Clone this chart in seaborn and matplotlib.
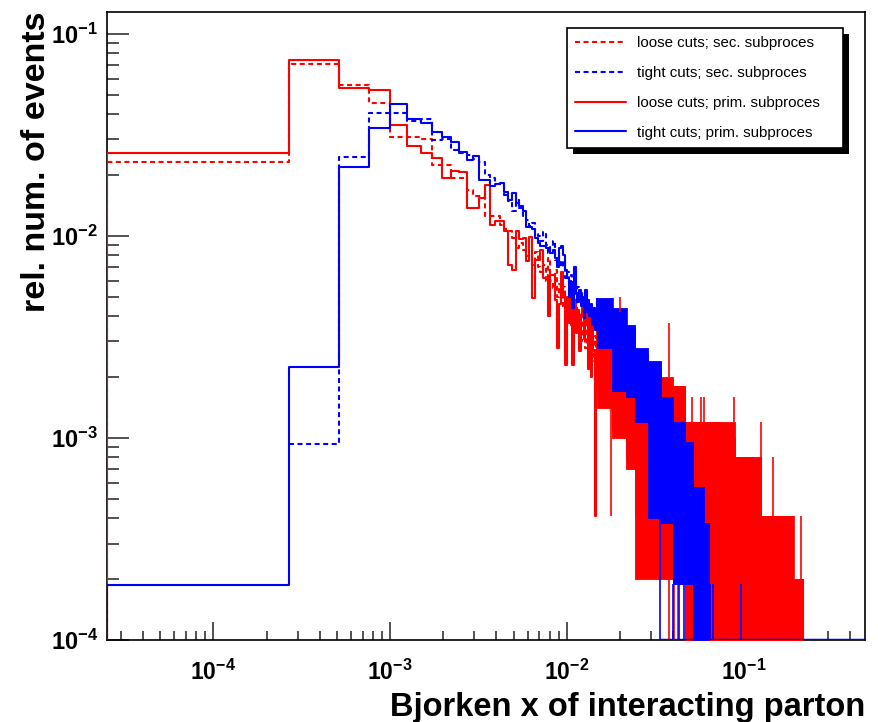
import numpy as np
import matplotlib
matplotlib.use("Agg")
import matplotlib.pyplot as plt
import seaborn as sns
from matplotlib.lines import Line2D
from matplotlib.patches import Rectangle
from matplotlib.ticker import LogLocator, NullFormatter, FixedLocator, FixedFormatter
from matplotlib.transforms import IdentityTransform

# ---- binning: uniform bins of width BIN_W starting at X_LO ----
X_LO = 2.5e-5
BIN_W = 2.44e-4
X_HI = 0.488
Y_MIN = 1e-4
Y_MAX = 0.128

# ---- relative number of events, bins 0..60 ----
loose_sec = [0.0233, 0.0708, 0.0560, 0.0452, 0.0308, 0.0308, 0.0301, 0.0225, 0.0225, 0.0193,
             0.0193, 0.0169, 0.0157, 0.0157, 0.0125, 0.0125, 0.0125, 0.0113, 0.0108, 0.0105,
             0.0098, 0.0087, 0.0092, 0.0085, 0.0079, 0.0081, 0.0072, 0.0083, 0.0070, 0.0066,
             0.0072, 0.0060, 0.0078, 0.0060, 0.0055, 0.0068, 0.0050, 0.0058, 0.0045, 0.0056,
             0.0048, 0.0040, 0.0052, 0.0036, 0.0046, 0.0040, 0.0052, 0.0035, 0.0042, 0.0030,
             0.0044, 0.0036, 0.0028, 0.0040, 0.0032, 0.0026, 0.0036, 0.0030, 0.0024, 0.0032,
             0.0027]
tight_sec = [0.0, 9.3e-4, 0.0244, 0.0407, 0.0403, 0.0368, 0.0378, 0.0299, 0.0301, 0.0267,
             0.0258, 0.0250, 0.0240, 0.0231, 0.0200, 0.0193, 0.0181, 0.0181, 0.0160, 0.0148,
             0.0132, 0.0150, 0.0138, 0.0125, 0.0120, 0.0112, 0.0116, 0.0102, 0.0100, 0.0094,
             0.0104, 0.0090, 0.0082, 0.0088, 0.0094, 0.0076, 0.0080, 0.0074, 0.0070, 0.0077,
             0.0062, 0.0066, 0.0058, 0.0064, 0.0055, 0.0060, 0.0050, 0.0056, 0.0048, 0.0052,
             0.0044, 0.0050, 0.0046, 0.0040, 0.0048, 0.0041, 0.0038, 0.0044, 0.0036, 0.0040,
             0.0034]
loose_prim = [0.0258, 0.0743, 0.0538, 0.0526, 0.0355, 0.0277, 0.0258, 0.0243, 0.0193, 0.0210,
              0.0206, 0.0137, 0.0137, 0.0154, 0.0179, 0.0113, 0.0118, 0.0118, 0.0105, 0.0072,
              0.0068, 0.0105, 0.0096, 0.0098, 0.0075, 0.0099, 0.0049, 0.0076, 0.0076, 0.0085,
              0.0062, 0.0062, 0.0040, 0.0064, 0.0064, 0.0048, 0.0028, 0.0046, 0.0066, 0.0052,
              0.0023, 0.0050, 0.0037, 0.0052, 0.0023, 0.0047, 0.0033, 0.0043, 0.0027, 0.0040,
              0.0050, 0.0031, 0.0043, 0.0037, 0.0022, 0.0040, 0.0020, 0.0037, 0.0027, 0.00041,
              0.0019]
tight_prim = [1.87e-4, 2.25e-3, 0.0218, 0.0341, 0.0450, 0.0378, 0.0361, 0.0325, 0.0307, 0.0290,
              0.0261, 0.0236, 0.0247, 0.0189, 0.0189, 0.0177, 0.0181, 0.0182, 0.0165, 0.0151,
              0.0163, 0.0145, 0.0140, 0.0133, 0.0111, 0.0111, 0.0108, 0.0098, 0.0092, 0.0089,
              0.0089, 0.0087, 0.0087, 0.0082, 0.0085, 0.0078, 0.0070, 0.0087, 0.0089, 0.0080,
              0.0068, 0.0062, 0.0050, 0.0058, 0.0044, 0.0070, 0.0052, 0.0047, 0.0054, 0.0045,
              0.0050, 0.0039, 0.0054, 0.0042, 0.0047, 0.0040, 0.0046, 0.0036, 0.0044, 0.0034,
              0.0040]

# ---- high-x tail: bins are far narrower than the drawing resolution, so each
# stretch is given by the lowest and highest bin content in it (0 = empty) ----
loose_sec_tail_x = [0.01491, 0.0180, 0.0216, 0.0245, 0.0290, 0.0340, 0.0470, 0.0750, 0.0900, 0.1260, 0.1900, 0.2184]
loose_sec_tail_lo = [1.4e-3, 1.0e-3, 7.0e-4, 2.0e-4, 2.0e-4, 2.0e-4, 0, 0, 0, 0, 0]
loose_sec_tail_hi = [3.4e-3, 3.0e-3, 2.6e-3, 2.2e-3, 2.0e-3, 1.8e-3, 1.2e-3, 1.0e-3, 8.0e-4, 4.1e-4, 2.0e-4]

tight_sec_tail_x = [0.01491, 0.0180, 0.0216, 0.0245, 0.0290, 0.0340, 0.0400, 0.0470, 0.0550, 0.0620]
tight_sec_tail_lo = [2.8e-3, 1.8e-3, 1.4e-3, 1.1e-3, 7.6e-4, 3.8e-4, 1.9e-4, 0, 0]
tight_sec_tail_hi = [4.9e-3, 4.4e-3, 3.6e-3, 2.8e-3, 2.4e-3, 1.7e-3, 1.3e-3, 7.6e-4, 3.8e-4]

loose_prim_tail_x = [0.01491, 0.0180, 0.0216, 0.0245, 0.0290, 0.0340, 0.0400, 0.0470, 0.0560,
                     0.0750, 0.0900, 0.1070, 0.1170, 0.1260, 0.1520, 0.1900, 0.2130]
loose_prim_tail_lo = [1.7e-3, 1.1e-3, 8.0e-4, 4.1e-4, 4.1e-4, 5.7e-4, 4.1e-4, 0, 0, 0, 0, 0, 0, 0, 0, 0]
loose_prim_tail_hi = [3.8e-3, 3.4e-3, 2.8e-3, 2.3e-3, 2.0e-3, 2.0e-3, 1.8e-3, 1.2e-3, 1.2e-3,
                      1.2e-3, 8.0e-4, 8.0e-4, 4.1e-4, 4.1e-4, 4.1e-4, 2.0e-4]

tight_prim_tail_x = [0.01491, 0.0180, 0.0216, 0.0245, 0.0290, 0.0340, 0.0400, 0.0470, 0.0520, 0.0595, 0.0635]
tight_prim_tail_lo = [2.8e-3, 1.7e-3, 1.6e-3, 1.2e-3, 4.0e-4, 3.8e-4, 1.9e-4, 1.9e-4, 0, 0]
tight_prim_tail_hi = [4.7e-3, 4.2e-3, 3.5e-3, 2.6e-3, 2.2e-3, 1.6e-3, 1.2e-3, 9.5e-4, 5.7e-4, 3.8e-4]

# single bins standing out of the tail stretches: position, neighbour level, own content
loose_prim_peak_x = [0.0179, 0.0200, 0.0377, 0.0380, 0.0405, 0.0428, 0.0512, 0.0575, 0.0600,
                     0.0886, 0.1264, 0.148, 0.193, 0.2125]
loose_prim_peak_from = [1.7e-3, 3.4e-3, 2.0e-3, 5.7e-4, 5.7e-4, 5.7e-4, 1.2e-3, 1.2e-3, 1.2e-3,
                        1.2e-3, 4.1e-4, 4.1e-4, 2.0e-4, 2.0e-4]
loose_prim_peak_to = [4.1e-4, 5.0e-3, 3.7e-3, 0, 0, 0, 1.6e-3, 1.6e-3, 1.6e-3,
                      1.6e-3, 1.2e-3, 8.0e-4, 4.1e-4, 4.1e-4]
tight_prim_peak_x = [0.0182, 0.0218, 0.0338, 0.0402, 0.0430, 0.0459, 0.0648, 0.0676, 0.0975]
tight_prim_peak_from = [4.2e-3, 3.5e-3, 4.0e-4, 1.9e-4, 1.9e-4, 1.9e-4, 0, 0, 0]
tight_prim_peak_to = [4.9e-3, 4.4e-3, 0, 0, 0, 0, 1.9e-4, 1.9e-4, 1.9e-4]

# start of the run of empty bins that reaches the upper end of the histogram
tight_prim_empty_from = 0.0338

legend_labels = ["loose cuts; sec. subproces", "tight cuts; sec. subproces",
                 "loose cuts; prim. subproces", "tight cuts; prim. subproces"]

RED = "#ff0000"
BLUE = "#0000ff"
DASH = (0, (2.4, 1.7))
LW = 1.5

sns.set_theme(style="white")
plt.rcParams["font.family"] = ["Liberation Sans", "DejaVu Sans"]
plt.rcParams["mathtext.fontset"] = "custom"
plt.rcParams["mathtext.rm"] = "Liberation Sans"
plt.rcParams["mathtext.bf"] = "Liberation Sans:bold"
plt.rcParams["mathtext.it"] = "Liberation Sans:italic"
for key in ("text.color", "axes.labelcolor", "xtick.color", "ytick.color", "axes.edgecolor"):
    plt.rcParams[key] = "black"

fig = plt.figure(figsize=(8.79, 7.22), dpi=100)
fig.patch.set_facecolor("white")
ax = fig.add_axes([107 / 879, 1 - 640 / 722, (865 - 107) / 879, (640 - 12) / 722])
ax.set_xscale("log")
ax.set_yscale("log")
ax.set_xlim(X_LO, X_HI)
ax.set_ylim(Y_MIN, Y_MAX)


def draw_series(values, tail_x, tail_lo, tail_hi, color, ls, z,
                peak_x=(), peak_from=(), peak_to=(), empty_from=None):
    vals = np.asarray(values, float)
    edges = X_LO + BIN_W * np.arange(len(vals) + 1)
    first = int(np.argmax(vals > 0))
    v = np.maximum(vals[first:], Y_MIN)
    e = edges[first:]
    if first == 0:
        # histogram rises from the frame at its lower edge
        xs = np.concatenate([[e[0]], e])
        ys = np.concatenate([[Y_MIN], v, [v[-1]]])
    else:
        xs = e
        ys = np.concatenate([v, [v[-1]]])
    sns.lineplot(x=xs, y=ys, ax=ax, color=color, estimator=None, sort=False,
                 drawstyle="steps-post", linewidth=LW, linestyle=ls,
                 zorder=z, legend=False, errorbar=None)
    tx = np.asarray(tail_x, float)
    lo = np.maximum(np.asarray(tail_lo, float), Y_MIN)
    hi = np.maximum(np.asarray(tail_hi, float), Y_MIN)
    ax.fill_between(tx, np.append(lo, lo[-1]), np.append(hi, hi[-1]), step="post",
                    color=color, linewidth=0.6, edgecolor=color, zorder=z)
    ax.vlines([tx[0], tx[-1]], [min(v[-1], hi[0]), Y_MIN], [max(v[-1], hi[0]), hi[-1]],
              colors=color, linewidth=LW, zorder=z)
    if len(peak_x):
        ax.vlines(peak_x, np.maximum(peak_from, Y_MIN), np.maximum(peak_to, Y_MIN),
                  colors=color, linewidth=1.2, zorder=z)
    if empty_from is not None:
        ax.hlines(Y_MIN, empty_from, X_HI, colors=color, linewidth=2.5, zorder=z)


draw_series(loose_sec, loose_sec_tail_x, loose_sec_tail_lo, loose_sec_tail_hi, RED, DASH, 3)
draw_series(tight_sec, tight_sec_tail_x, tight_sec_tail_lo, tight_sec_tail_hi, BLUE, DASH, 4)
draw_series(loose_prim, loose_prim_tail_x, loose_prim_tail_lo, loose_prim_tail_hi, RED, "-", 5,
            loose_prim_peak_x, loose_prim_peak_from, loose_prim_peak_to)
draw_series(tight_prim, tight_prim_tail_x, tight_prim_tail_lo, tight_prim_tail_hi, BLUE, "-", 6,
            tight_prim_peak_x, tight_prim_peak_from, tight_prim_peak_to,
            empty_from=tight_prim_empty_from)

# ---- axes frame and ticks ----
for s in ax.spines.values():
    s.set_color("black")
    s.set_linewidth(1.2)
ax.grid(False)
decade_labels = [r"$\mathbf{10^{-4}}$", r"$\mathbf{10^{-3}}$",
                 r"$\mathbf{10^{-2}}$", r"$\mathbf{10^{-1}}$"]
ax.xaxis.set_major_locator(FixedLocator([1e-4, 1e-3, 1e-2, 1e-1]))
ax.xaxis.set_major_formatter(FixedFormatter(decade_labels))
ax.yaxis.set_major_locator(FixedLocator([1e-4, 1e-3, 1e-2, 1e-1]))
ax.yaxis.set_major_formatter(FixedFormatter(decade_labels))
ax.xaxis.set_minor_locator(LogLocator(base=10, subs=np.arange(2, 10), numticks=20))
ax.yaxis.set_minor_locator(LogLocator(base=10, subs=np.arange(2, 10), numticks=20))
ax.xaxis.set_minor_formatter(NullFormatter())
ax.yaxis.set_minor_formatter(NullFormatter())
ax.tick_params(axis="x", which="major", direction="in", length=13, width=1.1,
               color="#222222", labelcolor="black", bottom=True, top=False,
               labelsize=16.5, pad=14)
ax.tick_params(axis="x", which="minor", direction="in", length=6.5, width=1.1,
               color="#222222", bottom=True, top=False)
ax.tick_params(axis="y", which="major", direction="in", length=16, width=1.1,
               color="#222222", labelcolor="black", left=True, right=False,
               labelsize=17, pad=6.5)
ax.tick_params(axis="y", which="minor", direction="in", length=8.5, width=1.1,
               color="#222222", left=True, right=False)
ax.set_xlabel("")
ax.set_ylabel("")

fig.text(865 / 879, 1 - 716 / 722, "Bjorken x of interacting parton", color="black",
         ha="right", va="baseline", fontsize=23.5, fontweight="bold")
fig.text(37 / 879, 1 - 12 / 722, "rel. num. of events", rotation=90, color="black",
         ha="center", va="top", fontsize=24.5, fontweight="bold")

# ---- legend with a solid drop shadow ----
handles = [Line2D([], [], color=RED, linestyle=DASH, linewidth=LW),
           Line2D([], [], color=BLUE, linestyle=DASH, linewidth=LW),
           Line2D([], [], color=RED, linestyle="-", linewidth=LW),
           Line2D([], [], color=BLUE, linestyle="-", linewidth=LW)]
leg = ax.legend(handles, legend_labels, loc="upper left",
                bbox_to_anchor=(567 / 879, 1 - 250 / 722, (843 - 567) / 879, (250 - 28) / 722),
                bbox_transform=fig.transFigure, mode="expand", borderaxespad=0,
                frameon=True, fancybox=False, edgecolor="black", framealpha=1,
                fontsize=10.8, handlelength=3.4, handletextpad=0.7,
                labelspacing=1.05, borderpad=0.55, labelcolor="black")
leg.get_frame().set_linewidth(1.2)
leg.set_zorder(10)
fig.canvas.draw()
bb = leg.get_window_extent()
ax.add_patch(Rectangle((bb.x0 + 6, bb.y0 - 6), bb.width, bb.height,
                       transform=IdentityTransform(), facecolor="black",
                       edgecolor="none", zorder=9, clip_on=False))

fig.savefig("out.png", dpi=100)
